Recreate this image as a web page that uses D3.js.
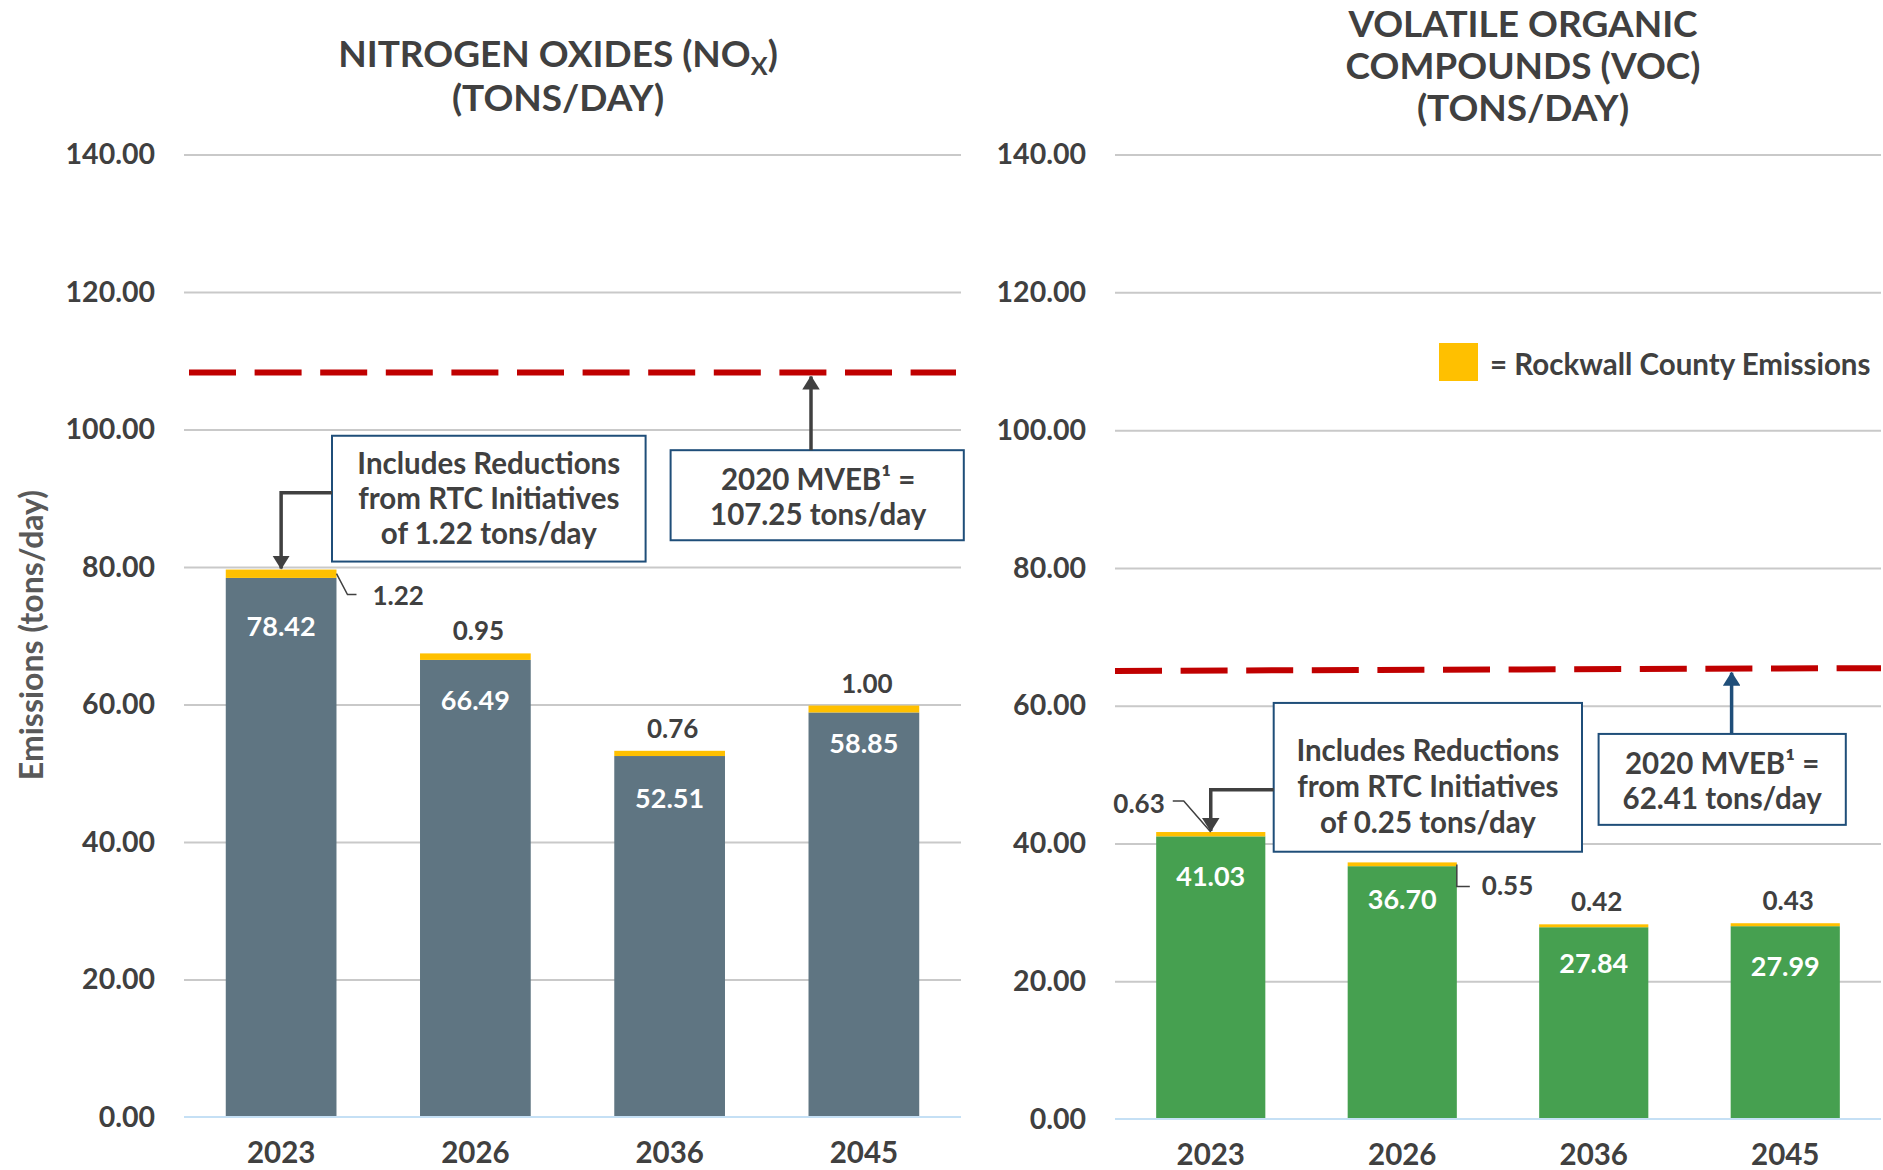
<!DOCTYPE html>
<html>
<head>
<meta charset="UTF-8" />
<title>emissions vs mveb</title>
<script src="https://cdn.jsdelivr.net/npm/d3@7"></script>
<style>
  body { margin: 0; background: #fff; }
  text { font-family: Lato, "Open Sans", sans-serif; }
</style>
</head>
<body>
<svg id="chart" width="1883" height="1170"></svg>
<script>
// values
var years = ["2023", "2026", "2036", "2045"]
var noxRegion = [78.42, 66.49, 52.51, 58.85]
var noxRockwall = [1.22, 0.95, 0.76, 1.00]
var vocRegion = [41.03, 36.70, 27.84, 27.99]
var vocRockwall = [0.63, 0.55, 0.42, 0.43]
var yTicks = [0, 20, 40, 60, 80, 100, 120, 140]
var noxBudget = 107.25
var vocBudget = 62.41
var noxBudgetLine = [108.3, 108.3]   // dashed line as drawn (start, end)
var vocBudgetLine = [65.05, 65.45]
var noxReduction = 1.22
var vocReduction = 0.25

// colours
var grayBar = "#5f7582"
var greenBar = "#46a050"
var yellow = "#ffc000"
var red = "#c00000"
var boxBlue = "#1f4e79"
var ink = "#404040"
var W = 700 // text weight

var svg = d3.select("#chart")
svg.append("rect").attr("width", 1883).attr("height", 1170).attr("fill", "#fff")

// arrow heads
var defs = svg.append("defs")
;[["arrGray", ink], ["arrBlue", boxBlue]].forEach(function (m) {
  defs.append("marker").attr("id", m[0])
    .attr("viewBox", "0 0 14 17.5").attr("markerUnits", "userSpaceOnUse")
    .attr("markerWidth", 14).attr("markerHeight", 17.5)
    .attr("refX", 13).attr("refY", 8.75).attr("orient", "auto")
    .append("path").attr("d", "M0,0 L14,8.75 L0,17.5 Z").attr("fill", m[1])
})

function drawPanel(o) {
  var g = svg.append("g")
  var x = d3.scaleBand().domain(years).range([o.left, o.right])
    .paddingInner(0.43).paddingOuter(0.215)
  var y = d3.scaleLinear().domain([0, 140]).range([o.y0, o.y140])
  var w = o.right - o.left

  // gridlines
  g.append("g").attr("transform", `translate(${o.left},0)`)
    .call(d3.axisLeft(y).tickValues(yTicks.slice(1)).tickSize(-w).tickFormat(""))
    .call(a => a.select(".domain").remove())
    .selectAll("line").attr("stroke", "#c9c9c9").attr("stroke-width", 2)

  // y tick labels
  var ya = g.append("g").attr("transform", `translate(${o.left},0)`)
    .call(d3.axisLeft(y).tickValues(yTicks).tickSize(0).tickPadding(29).tickFormat(d3.format(".2f")))
  ya.select(".domain").remove()
  ya.selectAll("text").attr("font-family", "Lato").attr("font-size", 28.5)
    .attr("font-weight", W).attr("fill", ink)

  // x labels
  var xa = g.append("g").attr("transform", `translate(0,${o.y0})`)
    .call(d3.axisBottom(x).tickSize(0).tickPadding(25))
  xa.select(".domain").remove()
  xa.selectAll("text").attr("font-family", "Lato").attr("font-size", 29.5)
    .attr("font-weight", W).attr("fill", ink)

  // stacked bars
  var rows = years.map((yr, i) => ({ yr: yr, main: o.main[i], rock: o.rock[i], i: i }))
  g.selectAll(".main").data(rows).join("rect")
    .attr("x", d => x(d.yr)).attr("width", x.bandwidth())
    .attr("y", d => y(d.main)).attr("height", d => y(0) - y(d.main))
    .attr("fill", o.color)
  g.selectAll(".rock").data(rows).join("rect")
    .attr("x", d => x(d.yr)).attr("width", x.bandwidth())
    .attr("y", d => y(d.main + d.rock)).attr("height", d => y(d.main) - y(d.main + d.rock))
    .attr("fill", yellow)

  // base line
  g.append("line").attr("x1", o.left).attr("x2", o.right)
    .attr("y1", y(0)).attr("y2", y(0)).attr("stroke", "#c5e0f5").attr("stroke-width", 2)

  // value labels inside bars
  g.selectAll(".vl").data(rows).join("text")
    .attr("x", d => x(d.yr) + x.bandwidth() / 2)
    .attr("y", d => y(d.main) + o.inOffset[d.i])
    .attr("text-anchor", "middle").attr("font-size", 27).attr("font-weight", W)
    .attr("fill", "#fff").text(d => d.main.toFixed(2))

  // rockwall labels
  rows.forEach(function (d) {
    var cx = x(d.yr) + x.bandwidth() / 2
    var xr = x(d.yr) + x.bandwidth()
    var top = y(d.main + d.rock)
    var pos = o.rockPos[d.i]
    var t = g.append("text").attr("font-size", 26).attr("font-weight", W).attr("fill", ink)
      .text(d.rock.toFixed(2))
    var lead = null
    if (pos === "above") {
      t.attr("x", cx + 3).attr("y", top - 13).attr("text-anchor", "middle")
    } else if (pos === "diag") {
      lead = [[xr, top + 4], [xr + 11, top + 25], [xr + 20, top + 25]]
      t.attr("x", xr + 36).attr("y", top + 35)
    } else if (pos === "step") {
      lead = [[xr, top + 2], [xr, top + 24], [xr + 13, top + 24]]
      t.attr("x", xr + 25).attr("y", top + 33)
    } else if (pos === "left") {
      lead = [[cx - 38, top - 31], [cx - 27, top - 31], [cx, top]]
      t.attr("x", cx - 46).attr("y", top - 19).attr("text-anchor", "end")
    }
    if (lead) {
      g.append("path").attr("d", d3.line()(lead)).attr("fill", "none")
        .attr("stroke", ink).attr("stroke-width", 1.5)
    }
  })

  // budget dashed line
  g.append("line")
    .attr("x1", o.left + o.dashInset[0]).attr("x2", o.right - o.dashInset[1])
    .attr("y1", y(o.budgetLine[0])).attr("y2", y(o.budgetLine[1]))
    .attr("stroke", red).attr("stroke-width", 6).attr("stroke-dasharray", "47,18.6")

  // annotation boxes
  function box(b, lines) {
    var x0 = o.left + b.x[0], x1 = o.left + b.x[1]
    var y0 = y(b.v[0]), y1 = y(b.v[1])
    g.append("rect").attr("x", x0).attr("y", y0).attr("width", x1 - x0).attr("height", y1 - y0)
      .attr("fill", "#fff").attr("stroke", boxBlue).attr("stroke-width", 2)
    var t = g.append("text").attr("text-anchor", "middle").attr("font-size", 29.5)
      .attr("font-weight", W).attr("fill", ink)
    lines.forEach(function (ln, k) {
      t.append("tspan").attr("x", (x0 + x1) / 2 + (b.dx || 0)).attr("y", y0 + b.first + k * b.lh).text(ln)
    })
    return { x0: x0, x1: x1, y0: y0, y1: y1 }
  }

  // reductions box + elbow arrow to the first bar
  var rb = box(o.redBox, ["Includes" + o.redGap + "Reductions", "from RTC Initiatives",
    "of " + o.reduction.toFixed(2) + " tons/day"])
  var cx0 = x(years[0]) + x.bandwidth() / 2
  var ay = y(o.redBox.arrowV)
  g.append("path")
    .attr("d", d3.line()([[rb.x0, ay], [cx0, ay], [cx0, y(o.main[0] + o.rock[0]) - 1]]))
    .attr("fill", "none").attr("stroke", ink).attr("stroke-width", 3.5)
    .attr("marker-end", "url(#arrGray)")

  // budget box + arrow up to the dashed line
  var bb = box(o.budBox, ["2020 MVEB\u00b9 =", o.budget.toFixed(2) + " tons/day"])
  var ax = o.left + o.budBox.arrowX
  var frac = (ax - o.left) / w
  var lineV = o.budgetLine[0] + (o.budgetLine[1] - o.budgetLine[0]) * frac
  g.append("line").attr("x1", ax).attr("x2", ax)
    .attr("y1", bb.y0).attr("y2", y(lineV) + 4)
    .attr("stroke", o.budArrow).attr("stroke-width", 3.5)
    .attr("marker-end", o.budArrow === boxBlue ? "url(#arrBlue)" : "url(#arrGray)")

  // title
  var tt = g.append("text").attr("text-anchor", "middle").attr("font-size", o.titleSize)
    .attr("font-weight", W).attr("fill", ink)
  o.title.forEach(function (ln, k) {
    var ts = tt.append("tspan").attr("x", o.titleX).attr("y", o.titleY[k])
    if (Array.isArray(ln)) {
      ts.text(ln[0])
      ts.append("tspan").attr("font-size", o.titleSize * 0.68).attr("dy", 8).text(ln[1])
      ts.append("tspan").attr("dy", -8).text(ln[2])
    } else ts.text(ln)
  })
  return { x: x, y: y }
}

drawPanel({
  left: 184, right: 961, y0: 1117, y140: 154.6,
  main: noxRegion, rock: noxRockwall, color: grayBar,
  inOffset: [58, 50, 51.5, 41],
  rockPos: ["diag", "above", "above", "above"],
  budgetLine: noxBudgetLine, dashInset: [5, 5], budget: noxBudget,
  reduction: noxReduction, redGap: " ",
  redBox: { x: [148, 461.6], v: [99.1, 80.8], first: 38, lh: 35, arrowV: 90.8 },
  budBox: { x: [486.6, 779.8], v: [97.0, 83.9], first: 40, lh: 34.5, arrowX: 627, dx: 1 },
  budArrow: ink,
  title: [["NITROGEN OXIDES (NO", "X", ")"], "(TONS/DAY)"],
  titleX: 558, titleY: [67, 111], titleSize: 37
})

drawPanel({
  left: 1115, right: 1881, y0: 1119, y140: 154.6,
  main: vocRegion, rock: vocRockwall, color: greenBar,
  inOffset: [50, 43, 46, 50],
  rockPos: ["left", "step", "above", "above"],
  budgetLine: vocBudgetLine, dashInset: [0, 0], budget: vocBudget,
  reduction: vocReduction, redGap: "  ",
  redBox: { x: [158.7, 467], v: [60.4, 38.8], first: 58.5, lh: 36, arrowV: 47.8 },
  budBox: { x: [483.6, 730.8], v: [55.9, 42.7], first: 40.5, lh: 35, arrowX: 616.6 },
  budArrow: boxBlue,
  title: ["VOLATILE ORGANIC", "COMPOUNDS (VOC)", "(TONS/DAY)"],
  titleX: 1523, titleY: [37, 79, 121], titleSize: 37
})

// legend
svg.append("rect").attr("x", 1439).attr("y", 343).attr("width", 39).attr("height", 38).attr("fill", yellow)
svg.append("text").attr("x", 1490).attr("y", 375).attr("font-size", 29.5).attr("font-weight", W)
  .attr("fill", ink).text("= Rockwall County Emissions")

// y axis title
svg.append("text").attr("transform", "translate(30,635) rotate(-90)")
  .attr("text-anchor", "middle").attr("dominant-baseline", "central")
  .attr("font-family", "'Open Sans', sans-serif").attr("font-size", 32).attr("font-weight", 700)
  .attr("fill", "#595959").text("Emissions (tons/day)")
</script>
</body>
</html>
